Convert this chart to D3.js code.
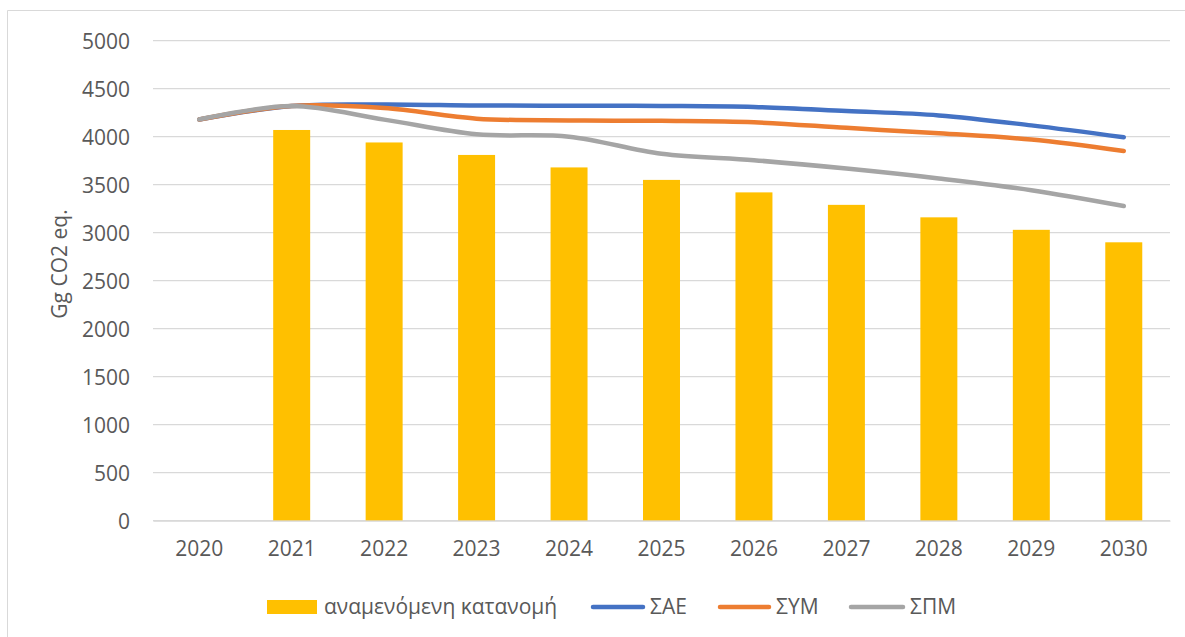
<!DOCTYPE html>
<html><head><meta charset="utf-8">
<script src="https://cdn.jsdelivr.net/npm/d3@7"></script>
<style>
html,body{margin:0;padding:0;background:#fff;}
text{font-family:"Open Sans","Noto Sans",sans-serif;fill:#595959;}
</style></head>
<body>
<svg id="c" width="1185" height="637"></svg>
<script>
const years = ["2020","2021","2022","2023","2024","2025","2026","2027","2028","2029","2030"];
const allocation = [null,4070,3940,3810,3680,3550,3420,3290,3160,3030,2900];
const sae = [4180,4320,4335,4325,4322,4320,4310,4268,4222,4118,3994];
const sym = [4180,4320,4298,4188,4170,4165,4150,4092,4035,3970,3851];
const spm = [4180,4320,4178,4025,4000,3822,3755,3668,3565,3443,3278];
const yTicks = [0,500,1000,1500,2000,2500,3000,3500,4000,4500,5000];
const seriesNames = ["αναμενόμενη κατανομή","ΣΑΕ","ΣΥΜ","ΣΠΜ"];
const colors = ["#FFC000","#4472C4","#ED7D31","#A5A5A5"];

const FS = "21px";
const svg = d3.select("#c");
const L=153, R=1170, T=40.7, B=520.7;

svg.append("path").attr("d",`M7.5,640 V10.5 H1190`).attr("fill","none").attr("stroke","#D9D9D9").attr("stroke-width",1);

const x = d3.scaleBand().domain(years).range([L,R]).paddingInner(0).paddingOuter(0);
const y = d3.scaleLinear().domain([0,5000]).range([B,T]);

// gridlines
svg.append("g").selectAll("line").data(yTicks).join("line")
  .attr("x1",L).attr("x2",R).attr("y1",d=>y(d)).attr("y2",d=>y(d))
  .attr("stroke","#D9D9D9").attr("stroke-width",1.3);

// y axis labels
const yAxis = d3.axisLeft(y).tickValues(yTicks).tickFormat(d3.format("d")).tickSize(0).tickPadding(23);
const gy = svg.append("g").attr("transform",`translate(${L},0)`).call(yAxis);
gy.attr("font-size",null).attr("font-family",null);
gy.select(".domain").remove();
gy.selectAll("text").style("font-size",FS).attr("fill","#595959").attr("dy","0.35em");

// bars
const bw = x.bandwidth()*0.4;
svg.append("g").selectAll("rect").data(years.map((yr,i)=>({yr,v:allocation[i]})).filter(d=>d.v!=null))
  .join("rect")
  .attr("x",d=>x(d.yr)+x.bandwidth()/2-bw/2).attr("width",bw)
  .attr("y",d=>y(d.v)).attr("height",d=>y(0)-y(d.v))
  .attr("fill",colors[0]);

// x axis
const xAxis = d3.axisBottom(x).tickSize(0).tickPadding(20);
const gx = svg.append("g").attr("transform",`translate(0,${B})`).call(xAxis);
gx.attr("font-size",null).attr("font-family",null);
gx.select(".domain").attr("stroke","#D9D9D9").attr("stroke-width",1.3);
gx.selectAll("text").style("font-size",FS).attr("fill","#595959");

// lines
const line = d3.line().x((d,i)=>x(years[i])+x.bandwidth()/2).y(d=>y(d)).curve(d3.curveCatmullRom.alpha(0.5));
[[sae,colors[1]],[sym,colors[2]],[spm,colors[3]]].forEach(([s,c])=>{
  svg.append("path").attr("d",line(s)).attr("fill","none").attr("stroke",c)
    .attr("stroke-width",4.5).attr("stroke-linecap","round").attr("stroke-linejoin","round");
});

// y title
svg.append("text").attr("transform","translate(67,264) rotate(-90)")
  .attr("text-anchor","middle").style("font-size",FS).text("Gg CO2 eq.");

// legend
const lg = svg.append("g");
const ly = 607;
lg.append("rect").attr("x",267).attr("y",ly-7).attr("width",50).attr("height",14).attr("fill",colors[0]);
lg.append("text").attr("x",324).attr("y",ly).attr("dy","0.35em").style("font-size",FS).text(seriesNames[0]);
const lpos = [[591,650],[718,776],[849,910]];
lpos.forEach((p,i)=>{
  lg.append("line").attr("x1",p[0]+2).attr("x2",p[1]-7).attr("y1",ly).attr("y2",ly)
    .attr("stroke",colors[i+1]).attr("stroke-width",4.5).attr("stroke-linecap","round");
  lg.append("text").attr("x",p[1]).attr("y",ly).attr("dy","0.35em").style("font-size",FS).text(seriesNames[i+1]);
});
</script>
</body></html>
